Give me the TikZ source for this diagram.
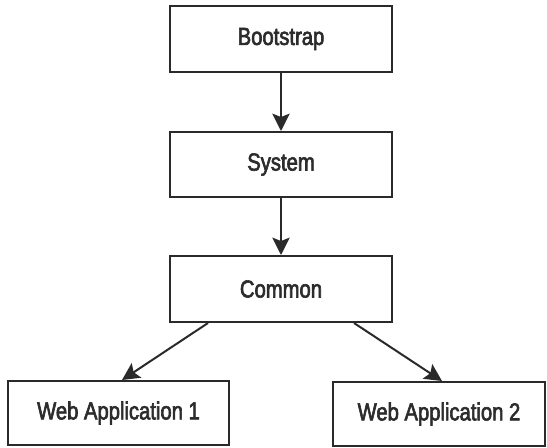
\documentclass[tikz,border=0pt]{standalone}
\usepackage{fontspec}
\newfontfamily\labelfont[FakeStretch=0.82,FakeBold=2.5]{Liberation Sans}
\usetikzlibrary{arrows.meta,calc}
\definecolor{ink}{HTML}{2A2A2A}
\definecolor{txt}{HTML}{2C2C2C}
\begin{document}
\begin{tikzpicture}[x=0.75pt,y=-0.75pt,
  box/.style={draw=ink,line width=1.5pt,fill=white,rectangle,inner sep=0pt,
    text=txt,font=\labelfont\fontsize{18.5pt}{21pt}\selectfont},
  link/.style={draw=ink,line width=1.5pt,
    -{Stealth[length=13pt,width=13pt,inset=2.5pt]}}]
  \useasboundingbox (0,0) rectangle (547,447);
  \node[box,minimum width=222*0.75pt,minimum height=66*0.75pt] (boot) at (281,39) {Bootstrap};
  \node[box,minimum width=222*0.75pt,minimum height=65*0.75pt] (sys) at (281,164.5) {System};
  \node[box,minimum width=222*0.75pt,minimum height=66*0.75pt] (common) at (281,289) {Common};
  \node[box,minimum width=221*0.75pt,minimum height=64*0.75pt] (wa1) at (118.5,413) {Web Application 1};
  \node[box,minimum width=212*0.75pt,minimum height=64*0.75pt] (wa2) at (439,414) {Web Application 2};
  \draw[link] (boot) -- (sys);
  \draw[link] (sys) -- (common);
  \draw[link] ($(common.south)+(-73,0)$) -- ($(wa1.north)+(3.5,0)$);
  \draw[link] ($(common.south)+(73,0)$) -- ($(wa2.north)+(3,0)$);
\end{tikzpicture}
\end{document}
